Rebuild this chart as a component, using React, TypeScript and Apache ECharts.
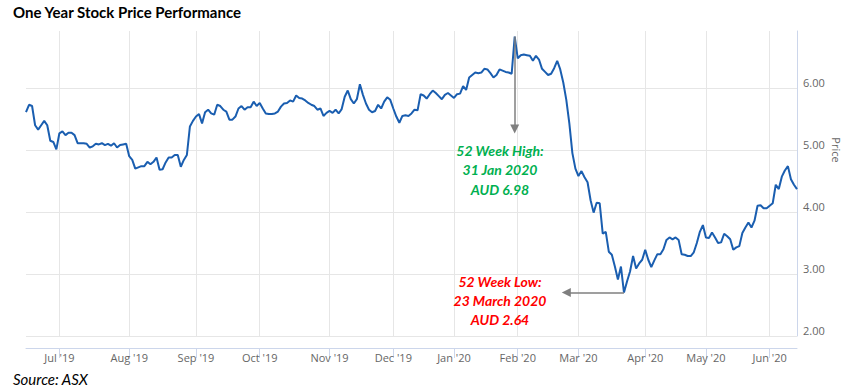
import React, { useEffect, useRef } from 'react';
import * as echarts from 'echarts';

// ---- data ----
const startDate = '2019-06-14';
const endDate = '2020-06-15';
const asxHolidays = ['2019-12-25', '2019-12-26', '2020-01-01', '2020-01-27', '2020-04-10', '2020-04-13', '2020-06-08'];
const monthNames = ['Jan', 'Feb', 'Mar', 'Apr', 'May', 'Jun', 'Jul', 'Aug', 'Sep', 'Oct', 'Nov', 'Dec'];

// closing prices, one per trading day (AUD)
const prices = [
  5.61, 5.73, 5.71, 5.40, 5.33, 5.40, 5.47, 5.40, 5.15, 5.13,
  5.01, 5.27, 5.30, 5.24, 5.28, 5.28, 5.24, 5.11, 5.11, 5.11,
  5.10, 5.04, 5.06, 5.10, 5.09, 5.11, 5.08, 5.10, 5.07, 5.11,
  5.04, 5.08, 5.09, 5.10, 4.90, 4.84, 4.70, 4.72, 4.74, 4.74,
  4.81, 4.77, 4.81, 4.88, 4.68, 4.69, 4.80, 4.88, 4.88, 4.92,
  4.92, 4.73, 4.84, 4.92, 5.38, 5.47, 5.54, 5.58, 5.43, 5.61,
  5.65, 5.59, 5.57, 5.73, 5.71, 5.65, 5.62, 5.49, 5.49, 5.54,
  5.67, 5.71, 5.65, 5.69, 5.69, 5.78, 5.71, 5.76, 5.67, 5.59,
  5.58, 5.58, 5.59, 5.62, 5.70, 5.75, 5.76, 5.80, 5.78, 5.88,
  5.84, 5.83, 5.80, 5.76, 5.73, 5.71, 5.65, 5.67, 5.55, 5.60,
  5.63, 5.60, 5.65, 5.59, 5.66, 5.86, 5.96, 5.82, 5.75, 5.82,
  6.06, 5.89, 5.75, 5.65, 5.61, 5.63, 5.73, 5.67, 5.78, 5.85,
  5.81, 5.67, 5.54, 5.44, 5.55, 5.56, 5.55, 5.59, 5.65, 5.64,
  5.90, 5.88, 5.83, 5.90, 5.96, 5.92, 5.87, 5.82, 5.89, 5.92,
  5.88, 5.84, 5.90, 5.91, 6.03, 5.97, 6.17, 6.21, 6.25, 6.24,
  6.25, 6.31, 6.30, 6.24, 6.17, 6.21, 6.30, 6.28, 6.26, 6.25,
  6.23, 6.83, 6.48, 6.53, 6.54, 6.53, 6.52, 6.44, 6.52, 6.46,
  6.31, 6.26, 6.21, 6.23, 6.32, 6.44, 6.30, 6.09, 5.81, 5.43,
  4.95, 4.70, 4.58, 4.66, 4.56, 4.48, 4.19, 3.99, 4.15, 4.14,
  3.65, 3.68, 3.36, 3.31, 3.12, 2.91, 3.12, 2.70, 2.88, 3.04,
  3.29, 3.09, 3.17, 3.23, 3.39, 3.23, 3.11, 3.22, 3.32, 3.32,
  3.40, 3.55, 3.59, 3.56, 3.59, 3.55, 3.32, 3.31, 3.29, 3.29,
  3.35, 3.50, 3.68, 3.79, 3.59, 3.58, 3.67, 3.59, 3.50, 3.51,
  3.65, 3.61, 3.56, 3.39, 3.43, 3.45, 3.66, 3.75, 3.83, 3.75,
  3.86, 4.10, 4.11, 4.06, 4.06, 4.10, 4.14, 4.44, 4.37, 4.57,
  4.67, 4.74, 4.53, 4.44, 4.37,
];

const yMin = 2;
const yMax = 6.92;
const yInterval = 1;

const highNote = ['52 Week High:', '31 Jan 2020', 'AUD 6.98'];
const lowNote = ['52 Week Low:', '23 March 2020', 'AUD 2.64'];
const highDate = '2020-01-31';
const highArrowEnd = 5.34;
const lowDate = '2020-03-23';
const lowArrowEndDate = '2020-02-25';

function tradingDays(): string[] {
  const out: string[] = [];
  const d = new Date(startDate + 'T00:00:00Z');
  const end = new Date(endDate + 'T00:00:00Z');
  while (d.getTime() <= end.getTime()) {
    const wd = d.getUTCDay();
    const s = d.toISOString().slice(0, 10);
    if (wd !== 0 && wd !== 6 && !asxHolidays.includes(s)) out.push(s);
    d.setUTCDate(d.getUTCDate() + 1);
  }
  return out;
}

export default function App() {
  const ref = useRef<HTMLDivElement>(null);
  useEffect(() => {
    if (!ref.current) return;
    const chart = echarts.init(ref.current, undefined, { renderer: 'svg' });
    const dates = tradingDays();
    const isMonthStart = (i: number) => i > 0 && dates[i].slice(5, 7) !== dates[i - 1].slice(5, 7);
    const fmt = (v: string) => `${monthNames[parseInt(v.slice(5, 7), 10) - 1]} '${v.slice(2, 4)}`;
    const highVal = prices[dates.indexOf(highDate)];
    const lowVal = prices[dates.indexOf(lowDate)];
    const axisBlue = '#ccd6eb';
    const gridGrey = '#e6e6e6';
    const labelFont = 'Open Sans';
    const noteFont = 'italic bold 14px Lato';

    const nTicks = Math.floor((yMax - yMin) / yInterval) + 1;
    const splitColors: string[] = [];
    for (let i = 0; i < nTicks; i++) splitColors.push(gridGrey);
    splitColors.push('rgba(0,0,0,0)');

    const graphics: any[] = [];
    highNote.forEach((t, i) => {
      graphics.push({
        type: 'text', x: 500, y: 150 + i * 19.5, z: 100,
        style: { text: t, fill: '#00b050', font: noteFont, align: 'center', verticalAlign: 'middle' },
      });
    });
    lowNote.forEach((t, i) => {
      graphics.push({
        type: 'text', x: 500, y: 281.5 + i * 19, z: 100,
        style: { text: t, fill: '#ff0000', font: noteFont, align: 'center', verticalAlign: 'middle' },
      });
    });
    graphics.push({
      type: 'text', x: 13, y: 379, z: 100,
      style: { text: 'Source: ASX', fill: '#000', font: 'italic 15px Lato', align: 'left', verticalAlign: 'middle' },
    });
    graphics.push({
      type: 'text', x: 836, y: 150, rotation: -Math.PI / 2, z: 100,
      style: { text: 'Price', fill: '#666', font: `11px "${labelFont}"`, align: 'center', verticalAlign: 'middle' },
    });

    chart.setOption({
      animation: false,
      backgroundColor: '#fff',
      title: {
        text: 'One Year Stock Price Performance',
        left: 13, top: 4, padding: 0,
        textStyle: { fontFamily: 'Lato', fontWeight: 'bold', fontSize: 15, color: '#000' },
      },
      grid: { left: 26, right: 67, top: 31, bottom: 54, containLabel: false },
      xAxis: {
        type: 'category',
        data: dates,
        boundaryGap: false,
        offset: 12,
        axisLine: { show: true, lineStyle: { color: axisBlue, width: 1 } },
        axisTick: { show: true, interval: (i: number) => isMonthStart(i), length: 10, lineStyle: { color: axisBlue } },
        axisLabel: {
          interval: (i: number) => isMonthStart(i),
          formatter: (v: string) => fmt(v),
          color: '#666', fontFamily: labelFont, fontSize: 11, margin: 4,
        },
        splitLine: { show: true, interval: (i: number) => isMonthStart(i), lineStyle: { color: gridGrey, width: 1 } },
      },
      yAxis: {
        type: 'value',
        position: 'right',
        min: yMin, max: yMax, interval: yInterval,
        axisLine: { show: true, lineStyle: { color: axisBlue, width: 1 } },
        axisTick: { show: false },
        axisLabel: {
          formatter: (v: number) => (Math.abs(v - Math.round(v)) < 1e-9 ? v.toFixed(2) : ''),
          color: '#666', fontFamily: labelFont, fontSize: 11, margin: 6, verticalAlign: 'bottom',
        },
        splitLine: { show: true, lineStyle: { color: splitColors, width: 1 } },
      },
      series: [
        {
          type: 'line',
          data: prices,
          showSymbol: false,
          symbol: 'none',
          lineStyle: { color: '#1a5eb0', width: 2 },
          markLine: {
            silent: true,
            animation: false,
            symbol: ['none', 'triangle'],
            symbolSize: [9, 9],
            lineStyle: { color: '#7f7f7f', width: 1.5, type: 'solid' },
            label: { show: false },
            emphasis: { disabled: true },
            data: [
              [{ coord: [highDate, highVal] }, { coord: [highDate, highArrowEnd] }],
              [{ coord: [lowDate, lowVal] }, { coord: [lowArrowEndDate, lowVal] }],
            ],
          },
        },
      ],
      graphic: graphics,
    });
    return () => chart.dispose();
  }, []);
  return <div ref={ref} style={{ position: 'fixed', left: 0, top: 0, width: 864, height: 390 }} />;
}
